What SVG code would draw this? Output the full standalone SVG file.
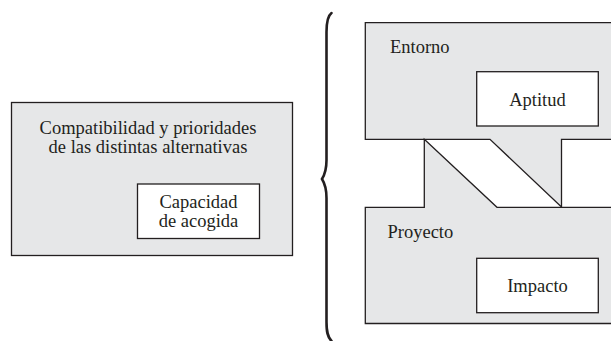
<svg xmlns="http://www.w3.org/2000/svg" width="611" height="341" viewBox="0 0 611 341">
<style>
.g{fill:#e6e7e8;stroke:#231f20;stroke-width:1.3}
.w{fill:#ffffff;stroke:#231f20;stroke-width:1.3}
.t{font-family:"Liberation Serif","Times New Roman",serif;font-size:18.5px;fill:#231f20}
.m{text-anchor:middle}
.br{fill:none;stroke:#231f20;stroke-width:2.6;stroke-linecap:round}
</style>
<rect width="611" height="341" fill="#ffffff"/>
<g id="compatibilidad">
<rect class="g" x="11.5" y="102.5" width="281" height="153"/>
<text class="t m" x="148" y="134">Compatibilidad y prioridades</text>
<text class="t m" x="148" y="153">de las distintas alternativas</text>
</g>
<g id="capacidad">
<rect class="w" x="137.5" y="184" width="122" height="54.5"/>
<text class="t m" x="198.5" y="208">Capacidad</text>
<text class="t m" x="198.5" y="226.5">de acogida</text>
</g>
<g id="connectors">
<path class="br" d="M331.5,13 C327.5,16 326.5,22 326.5,32 L326.5,160 C326.5,171 324.5,175 322,179 C324.5,183 326.5,187 326.5,198 L326.5,322 C326.5,332 327.5,337 331.5,341"/>
</g>
<g id="entorno">
<path class="g" d="M615,22.7 L365.3,22.7 L365.3,139.3 L490,139.3 L561.5,207 L561.5,139.3 L615,139.3"/>
<text class="t" x="390" y="53">Entorno</text>
</g>
<g id="proyecto">
<path class="g" d="M615,207.3 L497,207.3 L424.3,139.3 L424.3,207.3 L365.3,207.3 L365.3,323.5 L615,323.5"/>
<text class="t" x="387.5" y="238">Proyecto</text>
</g>
<g id="aptitud">
<rect class="w" x="476.7" y="71.7" width="121.6" height="54.3"/>
<text class="t m" x="537.5" y="106">Aptitud</text>
</g>
<g id="impacto">
<rect class="w" x="476.7" y="258.3" width="121.6" height="54.4"/>
<text class="t m" x="537.5" y="291.5">Impacto</text>
</g>
</svg>
